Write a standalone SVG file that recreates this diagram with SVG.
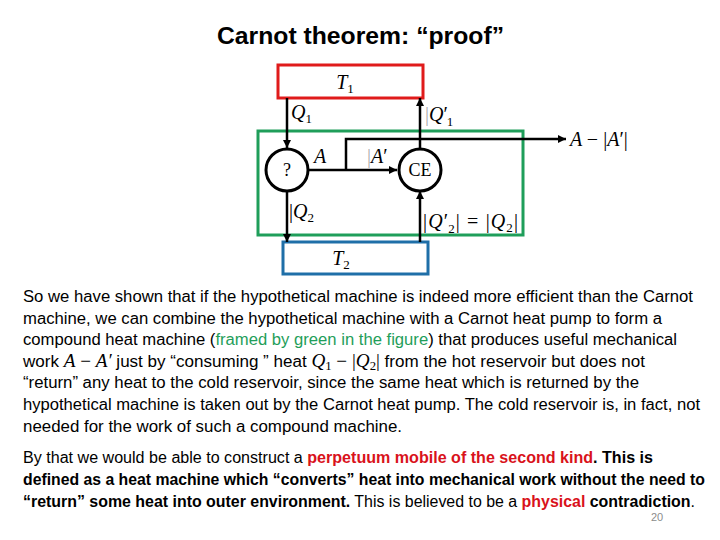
<svg xmlns="http://www.w3.org/2000/svg" width="720" height="540" viewBox="0 0 720 540">
<defs>
<marker id="arr" viewBox="0 0 10 10" refX="10" refY="5" markerWidth="9" markerHeight="8" markerUnits="userSpaceOnUse" orient="auto">
<path d="M0,0 L10,5 L0,10 z" fill="#000"/>
</marker>
<style>
.title{font-family:"Liberation Sans",Arial,sans-serif;font-weight:bold;font-size:24px;fill:#000}
.body{font-family:"Liberation Sans",Arial,sans-serif;font-size:16px;fill:#000}
.b{font-weight:bold}
.red{fill:#d9121b;font-weight:bold}
.grn{fill:#1f9e5a}
.m{font-family:"Liberation Serif","Times New Roman",serif;font-style:italic;font-size:18px}
.mr{font-family:"Liberation Serif","Times New Roman",serif;font-style:normal;font-size:18px}
.ms{font-family:"Liberation Serif","Times New Roman",serif;font-style:normal;font-size:12px}
.lab{font-family:"Liberation Serif","Times New Roman",serif;font-style:italic;font-size:20px;fill:#000}
.sub{font-style:normal;font-size:13px}
.n{font-style:normal}
.labr{font-family:"Liberation Serif","Times New Roman",serif;font-size:18px;fill:#000}
.faint{fill:#aaa;font-style:normal}
.conn{stroke:#000;stroke-width:2.5;fill:none}
.circ{stroke:#000;stroke-width:3;fill:#fff}
</style>
</defs>
<rect width="720" height="540" fill="#fff"/>
<text class="title" x="217" y="44" textLength="287" lengthAdjust="spacingAndGlyphs">Carnot theorem: “proof”</text>

<g id="compound">
<rect x="258" y="131" width="265" height="104" fill="none" stroke="#1f9e5a" stroke-width="3"/>
</g>
<g id="T1">
<rect x="278" y="65" width="145" height="33" fill="#fff" stroke="#e01b1b" stroke-width="3"/>
<text class="lab" x="345" y="89" text-anchor="middle">T<tspan class="sub" dy="4">1</tspan></text>
</g>
<g id="T2">
<rect x="283" y="242" width="145" height="32" fill="#fff" stroke="#1f6fa8" stroke-width="3"/>
<text class="lab" x="341" y="265" text-anchor="middle">T<tspan class="sub" dy="4">2</tspan></text>
</g>

<g id="connectors">
<path class="conn" d="M287,98 V148" marker-end="url(#arr)"/>
<path class="conn" d="M287,192 V242" marker-end="url(#arr)"/>
<path class="conn" d="M420,149 V98" marker-end="url(#arr)"/>
<path class="conn" d="M420,242 V191" marker-end="url(#arr)"/>
<path class="conn" d="M309,170 H397" marker-end="url(#arr)"/>
<path class="conn" d="M346,170 V139 H566" marker-end="url(#arr)"/>
</g>

<g id="machine">
<circle class="circ" cx="287" cy="170" r="21"/>
<text class="labr" x="287" y="176" text-anchor="middle">?</text>
</g>
<g id="CE">
<circle class="circ" cx="420" cy="170" r="21"/>
<text class="labr" x="420" y="176" text-anchor="middle">CE</text>
</g>

<g id="labels">
<text class="lab" x="291" y="119">Q<tspan class="sub" dy="4">1</tspan></text>
<text class="lab" x="425" y="121"><tspan class="faint">|</tspan>Q<tspan class="n">′</tspan><tspan class="sub" dx="-1" dy="5">1</tspan></text>
<text class="lab" x="314" y="163">A</text>
<text class="lab" x="367" y="163"><tspan class="faint">|</tspan>A<tspan class="n">′</tspan></text>
<text class="lab" x="570" y="146">A <tspan class="n">−</tspan> <tspan class="n">|</tspan>A<tspan class="n">′|</tspan></text>
<text class="lab" x="289" y="218"><tspan class="n">|</tspan>Q<tspan class="sub" dy="4">2</tspan></text>
<text class="lab" x="423" y="228" textLength="95"><tspan class="n">|</tspan>Q<tspan class="n">′</tspan><tspan class="sub" dx="-1" dy="5">2</tspan><tspan class="n" dy="-5">| = |</tspan>Q<tspan class="sub" dy="4">2</tspan><tspan class="n" dy="-4">|</tspan></text>
</g>

<g id="text1" class="body">
<text x="23" y="302" textLength="670" lengthAdjust="spacingAndGlyphs">So we have shown that if the hypothetical machine is indeed more efficient than the Carnot</text>
<text x="23" y="323.6" textLength="639" lengthAdjust="spacingAndGlyphs">machine, we can combine the hypothetical machine with a Carnot heat pump to form a</text>
<text x="23" y="345.2" textLength="654" lengthAdjust="spacingAndGlyphs">compound heat machine (<tspan class="grn">framed by green in the figure</tspan>) that produces useful mechanical</text>
<text x="23" y="366.8" textLength="622" lengthAdjust="spacingAndGlyphs">work <tspan class="m">A</tspan> <tspan class="mr">−</tspan> <tspan class="m">A′</tspan> just by “consuming ” heat <tspan class="m">Q</tspan><tspan class="ms" dy="3">1</tspan><tspan dy="-3"> </tspan><tspan class="mr">− |</tspan><tspan class="m">Q</tspan><tspan class="ms" dy="3">2</tspan><tspan class="mr" dy="-3">|</tspan> from the hot reservoir but does not</text>
<text x="23" y="388.4" textLength="616" lengthAdjust="spacingAndGlyphs">“return” any heat to the cold reservoir, since the same heat which is returned by the</text>
<text x="23" y="410" textLength="677" lengthAdjust="spacingAndGlyphs">hypothetical machine is taken out by the Carnot heat pump. The cold reservoir is, in fact, not</text>
<text x="23" y="431.6" textLength="379" lengthAdjust="spacingAndGlyphs">needed for the work of such a  compound machine.</text>
</g>

<g id="text2" class="body">
<text x="23" y="463" textLength="630" lengthAdjust="spacingAndGlyphs">By that we would be able to construct a <tspan class="red">perpetuum mobile of the second kind</tspan><tspan class="b">. This is</tspan></text>
<text x="23" y="485" class="b" textLength="682" lengthAdjust="spacingAndGlyphs">defined as a heat machine which “converts” heat into mechanical work without the need to</text>
<text x="23" y="507" textLength="672" lengthAdjust="spacingAndGlyphs"><tspan class="b">“return”  some heat into outer environment.</tspan> This is believed to be a <tspan class="red">physical</tspan> <tspan class="b">contradiction</tspan>.</text>
</g>
<text x="651" y="521" font-family="Liberation Sans,Arial,sans-serif" font-size="11" fill="#8c8c8c">20</text>
</svg>
